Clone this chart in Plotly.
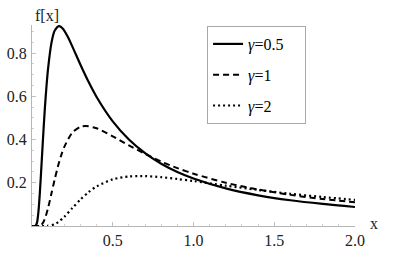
import plotly.graph_objects as go

# gamma = 0.5 (solid)
x_g05 = [0, 0.02, 0.03, 0.04, 0.05, 0.06, 0.07, 0.08, 0.09, 0.10, 0.12, 0.14, 0.167, 0.19, 0.22,
         0.25, 0.30, 0.35, 0.40, 0.50, 0.60, 0.70, 0.80, 0.90, 1.0, 1.2, 1.4, 1.6, 1.8, 2.0]
y_g05 = [0, 0.0004, 0.013, 0.068, 0.170, 0.298, 0.428, 0.548, 0.650, 0.732, 0.845, 0.903, 0.925, 0.914, 0.878,
         0.830, 0.746, 0.667, 0.597, 0.484, 0.400, 0.337, 0.288, 0.250, 0.220, 0.174, 0.142, 0.119, 0.102, 0.088]

# gamma = 1 (dashed)
x_g1 = [0, 0.04, 0.05, 0.06, 0.07, 0.08, 0.10, 0.12, 0.14, 0.16, 0.18, 0.20, 0.25, 0.30, 0.333,
        0.40, 0.50, 0.60, 0.70, 0.80, 0.90, 1.0, 1.2, 1.4, 1.6, 1.8, 2.0]
y_g1 = [0, 0.0002, 0.0016, 0.0065, 0.017, 0.034, 0.085, 0.149, 0.214, 0.274, 0.325, 0.366, 0.432, 0.459, 0.463,
        0.452, 0.415, 0.373, 0.334, 0.298, 0.268, 0.242, 0.200, 0.169, 0.144, 0.125, 0.110]

# gamma = 2 (dotted)
x_g2 = [0, 0.08, 0.10, 0.12, 0.14, 0.16, 0.20, 0.25, 0.30, 0.35, 0.40, 0.50, 0.60, 0.667,
        0.70, 0.80, 0.90, 1.0, 1.2, 1.4, 1.6, 1.8, 2.0]
y_g2 = [0, 0.0001, 0.0008, 0.0033, 0.0085, 0.017, 0.0425, 0.083, 0.1225, 0.1565, 0.183, 0.216, 0.229, 0.231,
        0.231, 0.226, 0.2175, 0.208, 0.1865, 0.167, 0.149, 0.134, 0.121]

names = ["<i>γ</i>=0.5", "<i>γ</i>=1", "<i>γ</i>=2"]
x_ticks = [0.5, 1.0, 1.5, 2.0]
x_tick_text = ["0.5", "1.0", "1.5", "2.0"]
y_ticks = [0.2, 0.4, 0.6, 0.8]
y_tick_text = ["0.2", "0.4", "0.6", "0.8"]

font_family = "Liberation Serif"
pad = "\u00a0" * 4  # extra room on the right side of the legend box

fig = go.Figure()
styles = [("solid", 2.2), ("6px,4px", 2.0), ("2px,3px", 2.2)]
for i, (xs, ys) in enumerate([(x_g05, y_g05), (x_g1, y_g1), (x_g2, y_g2)]):
    dash, w = styles[i]
    fig.add_trace(go.Scatter(
        x=xs, y=ys, mode="lines", name=names[i] + pad, legendgroup=str(i),
        line=dict(color="black", width=w, dash=dash, shape="spline", smoothing=0.8),
    ))

axis_common = dict(
    showgrid=False, zeroline=False, showline=True, linecolor="#b5b5b5", linewidth=1,
    ticks="inside", tickcolor="#c0c0c0", ticklen=4, tickwidth=1, automargin=False,
    tickfont=dict(family=font_family, size=16, color="#222"),
)

fig.update_layout(
    width=407, height=253,
    margin=dict(l=32, r=52, t=25, b=27),
    paper_bgcolor="white", plot_bgcolor="white",
    font=dict(family=font_family, size=16, color="black"),
    xaxis=dict(range=[0, 2.0], tickmode="array", tickvals=x_ticks, ticktext=x_tick_text,
               minor=dict(ticks="inside", ticklen=2, tickcolor="#d0d0d0", dtick=0.1, tick0=0),
               **axis_common),
    yaxis=dict(range=[0, 0.93], tickmode="array", tickvals=y_ticks, ticktext=y_tick_text,
               ticklabelstandoff=1,
               minor=dict(ticks="inside", ticklen=2, tickcolor="#d0d0d0", dtick=0.05, tick0=0),
               **axis_common),
    legend=dict(
        x=0.542, y=0.995, xanchor="left", yanchor="top",
        bordercolor="#a8a8a8", borderwidth=1, bgcolor="white",
        font=dict(family=font_family, size=16, color="black"),
        tracegroupgap=7, itemwidth=30,
    ),
    annotations=[
        dict(text="f[x]", xref="paper", yref="paper", x=0.0, y=1.0, xanchor="left", yanchor="bottom",
             xshift=1, yshift=-1, showarrow=False, font=dict(family=font_family, size=16, color="#222")),
        dict(text="x", xref="paper", yref="paper", x=1.0, y=0.0, xanchor="left", yanchor="bottom",
             xshift=13, yshift=-8, showarrow=False, font=dict(family=font_family, size=16, color="#222")),
    ],
)

fig.write_html("out.html", post_script="document.body.style.margin='0';",
               config={"displayModeBar": False})
